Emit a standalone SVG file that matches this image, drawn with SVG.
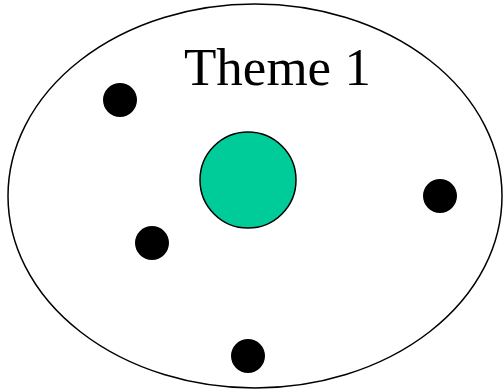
<svg xmlns="http://www.w3.org/2000/svg" width="504" height="391" viewBox="0 0 504 391">
<style>
.dot{fill:#000}
.lbl{font-family:"Liberation Serif","Times New Roman",serif;font-size:53px;fill:#000}
</style>
<rect width="504" height="391" fill="#fff"/>
<g id="theme"><ellipse cx="255" cy="196" rx="247" ry="192" fill="none" stroke="#000" stroke-width="1.5"/><text class="lbl" x="184" y="85">Theme 1</text></g>
<g id="center"><circle cx="248" cy="180" r="48" fill="#00CC99" stroke="#000" stroke-width="1.5"/></g>
<g id="dot1"><circle class="dot" cx="120" cy="100" r="17"/></g>
<g id="dot2"><circle class="dot" cx="440" cy="196" r="17"/></g>
<g id="dot3"><circle class="dot" cx="152" cy="243" r="17"/></g>
<g id="dot4"><circle class="dot" cx="248" cy="356" r="17"/></g>
<g id="connectors"></g>
</svg>
